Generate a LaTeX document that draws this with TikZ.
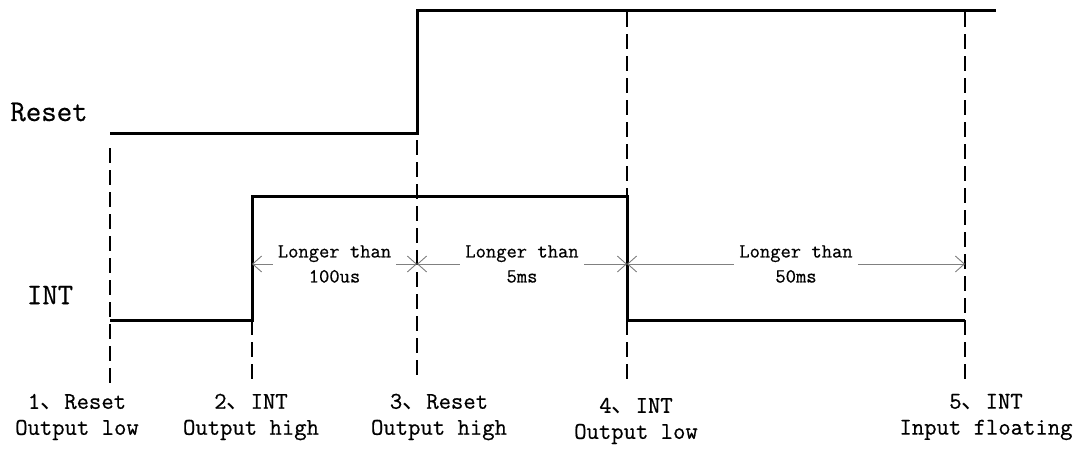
\documentclass[tikz,border=0pt]{standalone}
\usepackage{fontspec}
\setmonofont{Latin Modern Mono}[FakeBold=0.6]
\newfontfamily\cjk{Noto Sans CJK SC}
\usepackage{tikz}
\usetikzlibrary{
        arrows.meta,
        positioning
    }
\newcommand{\dun}{{\cjk 、}}
\tikzset{
    signal/.style={line width=3pt,line join=miter},
    marker/.style={line width=1.8pt,dash pattern=on 15pt off 7pt},
    span/.style={gray,line width=0.9pt,
        {Straight Barb[length=9pt,width=16pt]}-{Straight Barb[length=9pt,width=16pt]}},
    spanlabel/.style={fill=white,text=black,inner sep=5pt,align=center,
        font=\ttfamily\fontsize{20}{25}\selectfont},
    eventlabel/.style={align=center,font=\ttfamily\fontsize{24}{26}\selectfont},
    siglabel/.style={font=\ttfamily\fontsize{30}{30}\selectfont}
}

\begin{document}
\begin{tikzpicture}[x=1pt,y=-1pt]
            \useasboundingbox (0,0) rectangle (1088,448);
            % signal names
            \node[siglabel] (reset) at (49,112) {Reset};
            \node[siglabel] (int)   at (50,295) {INT};
            % Reset waveform
            \coordinate (rst0) at (110,133);
            \coordinate (rst1) at (417,133);
            \coordinate (rst2) at (417,10);
            \coordinate (rst3) at (996,10);
            \draw[signal] (rst0) -- (rst1) -- (rst2) -- (rst3);
            % INT waveform
            \coordinate (int0) at (110,320);
            \coordinate (int1) at (252,320);
            \coordinate (int2) at (252,196);
            \coordinate (int3) at (627,196);
            \coordinate (int4) at (627,320);
            \coordinate (int5) at (965,320);
            \draw[signal] (int0) -- (int1) -- (int2) -- (int3) -- (int4) -- (int5);
            % time markers
            \coordinate (m1a) at (110,148);  \coordinate (m1b) at (110,385);
            \coordinate (m2a) at (252,320);  \coordinate (m2b) at (252,380);
            \coordinate (m3a) at (417,140);  \coordinate (m3b) at (417,380);
            \coordinate (m4a) at (627,12);   \coordinate (m4b) at (627,385);
            \coordinate (m5a) at (965,12);   \coordinate (m5b) at (965,380);
            \path[marker]
                (m1a) edge (m1b)
                (m2a) edge (m2b)
                (m3a) edge (m3b)
                (m4a) edge (m4b)
                (m5a) edge (m5b)
            ;
            % durations
            \coordinate (s2) at (252,264);
            \coordinate (s3) at (417,264);
            \coordinate (s4) at (627,264);
            \coordinate (s5) at (965,264);
            \path[span]
                (s2) edge node[spanlabel] {Longer than\\100us} (s3)
                (s3) edge node[spanlabel] {Longer than\\5ms} (s4)
                (s4) edge node[spanlabel] {Longer than\\50ms} (s5)
            ;
            % events
            \node[eventlabel] (ev1) at (77,417)  {1\dun Reset\\Output low};
            \node[eventlabel] (ev2) at (251,417) {2\dun INT\\Output high};
            \node[eventlabel] (ev3) at (439,417) {3\dun Reset\\Output high};
            \node[eventlabel] (ev4) at (636,421) {4\dun INT\\Output low};
            \node[eventlabel] (ev5) at (986,417) {5\dun INT\\Input floating};
        \end{tikzpicture}
\end{document}
